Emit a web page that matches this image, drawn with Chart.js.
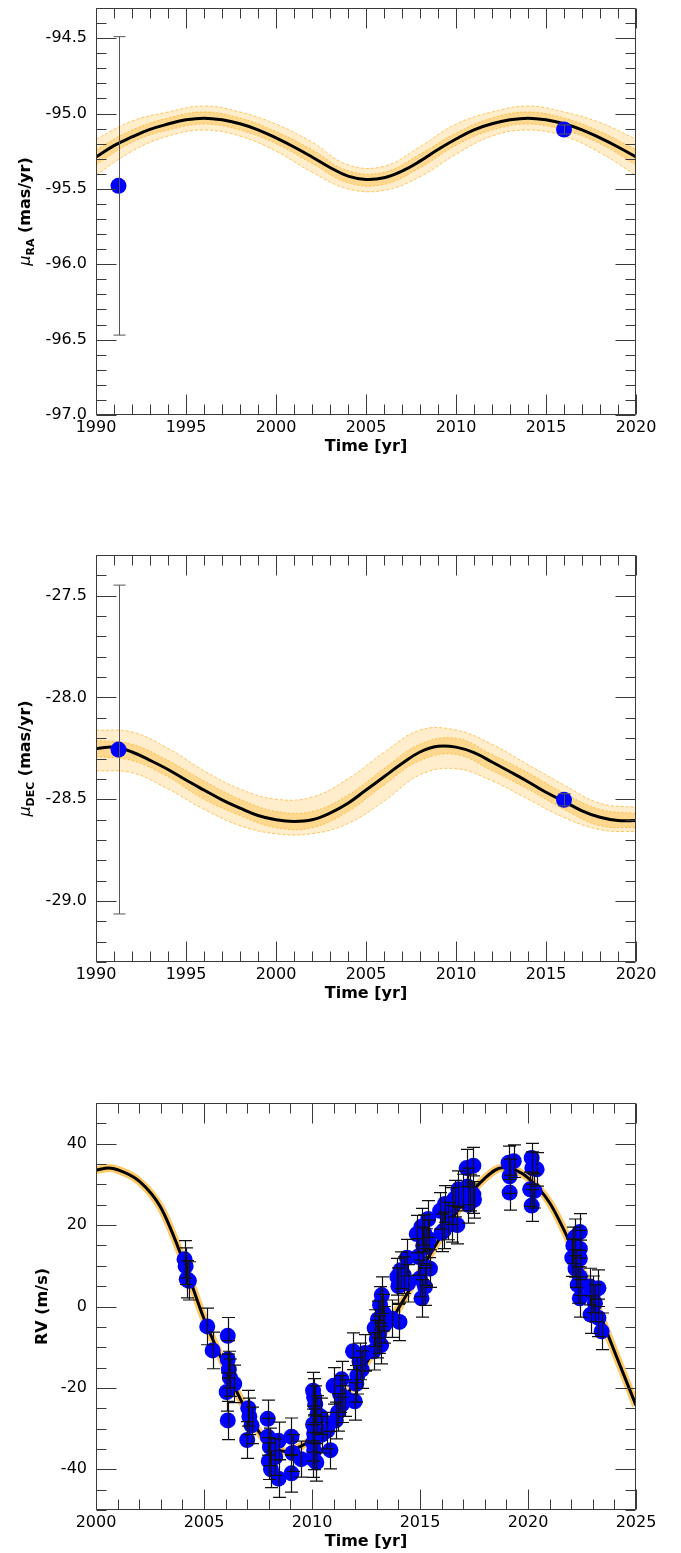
<!DOCTYPE html>
<html>
<head>
<meta charset="utf-8">
<script src="https://cdn.jsdelivr.net/npm/chart.js@4.4.1/dist/chart.umd.min.js"></script>
<style>
  html, body { margin: 0; padding: 0; background: #fff; overflow: hidden; }
  #wrap { position: relative; width: 681px; height: 1553px; overflow: hidden; }
  canvas { position: absolute; left: 0; }
</style>
</head>
<body>
<div id="wrap">
  <canvas id="cRA" width="681" height="460" style="top:0px"></canvas>
  <canvas id="cDEC" width="681" height="460" style="top:547px"></canvas>
  <canvas id="cRV" width="681" height="458" style="top:1095px"></canvas>
</div>
<script>
// ---- proper-motion measurements (Hipparcos / Gaia epochs) ----
const pmEpochs = [1991.25, 2016.0];
const pmRA = [-95.48, -95.106];
const pmRAErr = [0.99, 0.03];
const pmDEC = [-28.256, -28.503];
const pmDECErr = [0.808, 0.03];

// ---- best-fit orbit, proper motion, yearly ----
const modelYears = [1990, 1991, 1992, 1993, 1994, 1995, 1996, 1997, 1998, 1999,
                    2000, 2001, 2002, 2003, 2004, 2005, 2006, 2007, 2008, 2009,
                    2010, 2011, 2012, 2013, 2014, 2015, 2016, 2017, 2018, 2019, 2020];
const modelRA = [-95.289, -95.213, -95.155, -95.105, -95.070, -95.042, -95.031, -95.042, -95.068, -95.108,
                 -95.162, -95.222, -95.288, -95.358, -95.415, -95.437, -95.426, -95.382, -95.316, -95.239,
                 -95.169, -95.108, -95.068, -95.042, -95.031, -95.042, -95.068, -95.108, -95.162, -95.222, -95.288];
const modelDEC = [-28.252, -28.244, -28.268, -28.309, -28.354, -28.406, -28.455, -28.503, -28.544, -28.580,
                  -28.601, -28.609, -28.601, -28.568, -28.520, -28.455, -28.390, -28.325, -28.268, -28.240,
                  -28.244, -28.271, -28.317, -28.365, -28.414, -28.466, -28.511, -28.557, -28.589, -28.605, -28.605];

// ---- spread of posterior orbits (outer and inner envelopes), every two years ----
const bandYears = [1990, 1992, 1994, 1996, 1998, 2000, 2002, 2004, 2006, 2008, 2010, 2012, 2014, 2016, 2018, 2020];
const raOuterHi = [-95.17, -95.05, -94.99, -94.95, -94.99, -95.07, -95.19, -95.34, -95.35, -95.22, -95.07, -94.99, -94.95, -94.99, -95.06, -95.17];
const raOuterLo = [-95.41, -95.25, -95.15, -95.11, -95.15, -95.25, -95.39, -95.50, -95.51, -95.42, -95.27, -95.15, -95.11, -95.15, -95.26, -95.41];
const raInnerHi = [-95.24, -95.11, -95.03, -94.99, -95.03, -95.12, -95.24, -95.38, -95.39, -95.27, -95.13, -95.03, -94.99, -95.03, -95.12, -95.24];
const raInnerLo = [-95.34, -95.19, -95.11, -95.07, -95.11, -95.20, -95.33, -95.46, -95.47, -95.36, -95.21, -95.11, -95.07, -95.11, -95.20, -95.34];
const decOuterHi = [-28.16, -28.17, -28.25, -28.36, -28.45, -28.50, -28.49, -28.40, -28.27, -28.16, -28.16, -28.23, -28.33, -28.43, -28.52, -28.54];
const decOuterLo = [-28.36, -28.37, -28.45, -28.55, -28.63, -28.67, -28.67, -28.62, -28.51, -28.38, -28.35, -28.41, -28.50, -28.59, -28.65, -28.66];
const decInnerHi = [-28.21, -28.23, -28.31, -28.41, -28.50, -28.56, -28.56, -28.48, -28.35, -28.23, -28.20, -28.28, -28.37, -28.47, -28.55, -28.57];
const decInnerLo = [-28.29, -28.31, -28.39, -28.50, -28.58, -28.64, -28.64, -28.56, -28.43, -28.31, -28.28, -28.36, -28.45, -28.55, -28.63, -28.64];

// ---- radial velocities ----
const rvTime = [
  2004.10, 2004.15, 2004.20, 2004.30,
  2005.15, 2005.40,
  2006.10, 2006.10, 2006.15, 2006.20, 2006.40, 2006.05, 2006.10,
  2007.05, 2007.10, 2007.20, 2007.00,
  2007.95, 2007.95, 2008.05, 2008.00, 2008.10, 2008.45, 2008.45, 2008.30,
  2009.05, 2009.10, 2009.05, 2009.50,
  2010.05, 2010.10, 2010.15, 2010.25, 2010.05, 2010.10, 2010.05, 2010.10, 2010.05, 2010.20, 2010.45, 2010.40, 2010.70, 2010.85,
  2011.00, 2011.10, 2011.20, 2011.30, 2011.37, 2011.40, 2011.55,
  2011.90, 2011.98, 2012.05, 2012.10, 2012.30, 2012.45, 2012.20,
  2012.85, 2012.90, 2013.00, 2013.05, 2013.10, 2013.15, 2013.23, 2013.20, 2013.30, 2013.35, 2013.70,
  2013.95, 2014.00, 2014.05, 2014.25, 2014.40, 2014.45, 2014.10,
  2014.85, 2014.90, 2015.00, 2015.07, 2015.07, 2015.15, 2015.23, 2015.27, 2015.30, 2015.38, 2015.40, 2015.46, 2015.20,
  2015.93, 2016.00, 2016.10, 2016.16, 2016.30, 2016.47, 2016.50, 2016.73, 2016.78, 2016.60,
  2017.00, 2017.16, 2017.24, 2017.30, 2017.47, 2017.47, 2017.50, 2017.20,
  2019.10, 2019.34, 2019.15, 2019.15,
  2020.17, 2020.20, 2020.40, 2020.10, 2020.30, 2020.17,
  2022.05, 2022.10, 2022.17, 2022.40, 2022.17, 2022.40, 2022.20, 2022.40, 2022.40, 2022.30, 2022.40,
  2022.87, 2023.00, 2022.90, 2023.10, 2023.26, 2023.26, 2023.41
];
const rvValue = [
  11.6, 9.9, 6.7, 6.3,
  -4.9, -10.8,
  -7.2, -13.0, -15.5, -17.5, -19.0, -21.0, -28.0,
  -25.0, -27.0, -29.2, -32.8,
  -27.6, -32.0, -34.5, -38.0, -40.0, -33.0, -42.3, -37.0,
  -32.0, -36.0, -41.0, -37.5,
  -20.7, -22.3, -24.0, -26.5, -29.0, -31.2, -33.5, -35.5, -37.5, -38.3, -31.5, -27.0, -30.5, -35.3,
  -19.5, -28.0, -26.0, -21.5, -17.9, -24.0, -22.5,
  -11.0, -23.3, -19.0, -17.0, -15.5, -11.4, -13.5,
  -11.0, -5.3, -8.0, -3.2, -6.9, 0.4, 2.8, -9.5, -1.5, -4.5, -3.0,
  7.3, 5.0, -3.8, 7.7, 12.0, 5.7, 8.9,
  17.8, 12.2, 6.9, 2.0, 19.6, 15.0, 4.9, 9.7, 14.6, 21.5, 16.6, 9.3, 18.0,
  23.5, 18.1, 18.7, 25.2, 21.0, 20.3, 24.7, 20.0, 28.8, 26.5,
  28.0, 34.0, 25.0, 28.0, 34.6, 27.5, 26.2, 29.5,
  35.3, 35.7, 32.0, 28.0,
  36.5, 34.0, 33.7, 28.8, 28.4, 24.8,
  12.0, 15.0, 17.0, 18.3, 11.8, 14.2, 9.3, 11.8, 7.3, 5.3, 2.0,
  4.9, 3.0, -2.0, 0.8, 4.5, -2.8, -6.1
];
const rvError = [
  4.6, 4.5, 4.6, 4.7,
  4.5, 4.5,
  4.5, 4.6, 4.5, 4.6, 4.6, 4.7, 4.7,
  4.4, 4.5, 4.5, 4.5,
  4.6, 4.5, 4.6, 4.5, 4.5, 4.6, 4.6, 4.5,
  4.6, 4.5, 4.6, 4.4,
  4.5, 4.6, 4.5, 4.6, 4.5, 4.6, 4.5, 4.6, 4.5, 4.6, 4.5, 4.5, 4.5, 4.6,
  4.5, 4.5, 4.6, 4.5, 4.4, 4.5, 4.5,
  4.5, 4.6, 4.5, 4.5, 4.6, 4.5, 4.5,
  4.6, 4.5, 4.6, 4.5, 4.6, 4.5, 4.5, 4.6, 4.5, 4.5, 4.6,
  4.5, 4.5, 4.6, 4.5, 4.5, 4.6, 4.5,
  4.6, 4.5, 4.5, 4.6, 4.5, 4.5, 4.6, 4.5, 4.5, 4.5, 4.6, 4.6, 4.5,
  4.5, 4.6, 4.5, 4.5, 4.6, 4.5, 4.5, 4.6, 4.5, 4.5,
  4.5, 4.6, 4.5, 4.5, 4.5, 4.6, 4.5, 4.5,
  4.1, 4.0, 4.2, 4.3,
  3.6, 4.0, 4.1, 4.2, 4.2, 3.9,
  4.6, 4.5, 4.5, 4.5, 4.6, 4.5, 4.6, 4.5, 4.6, 4.5, 4.6,
  4.5, 4.5, 4.6, 4.5, 4.5, 4.6, 4.5
];

// ---- best-fit radial-velocity curve ----
const rvModelYears = [2000, 2000.6, 2001, 2002, 2003, 2004, 2005, 2006, 2007, 2008, 2008.8, 2009.5, 2010,
                      2011, 2012, 2013, 2014, 2015, 2016, 2017, 2018, 2018.8, 2019.5, 2020,
                      2021, 2022, 2023, 2024, 2025];
const rvModel = [33.5, 34.0, 33.6, 30.8, 24.3, 11.8, -3.0, -15.0, -26.0, -34.0, -35.6, -34.3, -32.5,
                 -26.5, -18.5, -9.5, -0.5, 8.5, 17.5, 25.5, 31.5, 34.1, 33.3, 31.6,
                 25.5, 15.0, 2.5, -11.0, -24.3];

// ---- axis ticks ----
const pmYearTicks = [1990, 1995, 2000, 2005, 2010, 2015, 2020];
const rvYearTicks = [2000, 2005, 2010, 2015, 2020, 2025];
const raTicks = [-97.0, -96.5, -96.0, -95.5, -95.0, -94.5];
const decTicks = [-29.0, -28.5, -28.0, -27.5];
const rvTicks = [-40, -20, 0, 20, 40];

Chart.defaults.font.family = '"DejaVu Sans", sans-serif';

const FONT = '"DejaVu Sans"';
const pairs = (xs, ys) => xs.map((x, i) => ({ x: x, y: ys[i] }));

// frame with inward major/minor ticks on all four sides
function frameTicks(o) {
  return {
    id: 'frameTicks',
    afterDraw(chart) {
      const { ctx, chartArea: a, scales } = chart;
      const xs = scales.x, ys = scales.y;
      const L = Math.round(a.left) + 0.5, R = Math.round(a.right) - 0.5;
      const T = Math.round(a.top) + 0.5, B = Math.round(a.bottom) - 0.5;
      ctx.save();
      ctx.strokeStyle = '#3a3a3a';
      ctx.lineWidth = 1;
      ctx.beginPath();
      ctx.rect(L, T, R - L, B - T);
      const near = (arr, v) => arr.some(t => Math.abs(t - v) < 1e-6);
      const xTick = (v, len) => {
        const px = Math.round(xs.getPixelForValue(v)) + 0.5;
        ctx.moveTo(px, B); ctx.lineTo(px, B - len);
        ctx.moveTo(px, T); ctx.lineTo(px, T + len);
      };
      const yTick = (v, len) => {
        const py = Math.round(ys.getPixelForValue(v)) + 0.5;
        ctx.moveTo(L, py); ctx.lineTo(L + len, py);
        ctx.moveTo(R, py); ctx.lineTo(R - len, py);
      };
      o.xTicks.forEach(v => xTick(v, 20));
      const nx = Math.round((o.xMax - o.xMin) / o.xMinor);
      for (let k = 0; k <= nx; k++) {
        const v = o.xMin + k * o.xMinor;
        if (!near(o.xTicks, v)) xTick(v, 10);
      }
      o.yTicks.forEach(v => yTick(v, 20));
      const ny = Math.round((o.yMax - o.yMin) / o.yMinor);
      for (let k = 0; k <= ny; k++) {
        const v = o.yMin + k * o.yMinor;
        if (!near(o.yTicks, v)) yTick(v, 10);
      }
      ctx.stroke();
      ctx.restore();
    }
  };
}

// vertical error bars with caps, drawn over the markers
const errorBars = {
  id: 'errorBars',
  afterDatasetsDraw(chart) {
    const { ctx, scales } = chart;
    chart.data.datasets.forEach(ds => {
      if (!ds.errors) return;
      ctx.save();
      ctx.strokeStyle = ds.errorColor;
      ctx.lineWidth = ds.errorWidth;
      ctx.beginPath();
      ds.data.forEach((p, j) => {
        const e = ds.errors[j];
        const x = Math.round(scales.x.getPixelForValue(p.x)) + 0.5;
        const y0 = scales.y.getPixelForValue(p.y - e);
        const y1 = scales.y.getPixelForValue(p.y + e);
        const c = ds.capHalf;
        ctx.moveTo(x, y0); ctx.lineTo(x, y1);
        ctx.moveTo(x - c, y0); ctx.lineTo(x + c, y0);
        ctx.moveTo(x - c, y1); ctx.lineTo(x + c, y1);
      });
      ctx.stroke();
      ctx.restore();
    });
  }
};

// rotated y-axis title with optional subscript pieces
function yTitle(parts, baseX) {
  return {
    id: 'yTitle',
    afterDraw(chart) {
      const { ctx, chartArea: a } = chart;
      const yc = (a.top + a.bottom) / 2;
      ctx.save();
      ctx.translate(baseX, yc);
      ctx.rotate(-Math.PI / 2);
      ctx.fillStyle = '#000';
      ctx.textAlign = 'left';
      ctx.textBaseline = 'alphabetic';
      let total = 0;
      const widths = parts.map(p => { ctx.font = p.font; const w = ctx.measureText(p.text).width; total += w; return w; });
      let cx = -total / 2;
      parts.forEach((p, i) => { ctx.font = p.font; ctx.fillText(p.text, cx, p.dy); cx += widths[i]; });
      ctx.restore();
    }
  };
}

function buildChart(id, o) {
  return new Chart(document.getElementById(id), {
    type: 'scatter',
    data: { datasets: o.datasets },
    options: {
      responsive: false,
      animation: false,
      events: [],
      layout: { padding: { left: 0, right: 45, top: 3, bottom: o.padBottom } },
      plugins: { legend: { display: false }, tooltip: { enabled: false } },
      scales: {
        x: {
          type: 'linear', min: o.xMin, max: o.xMax,
          grid: { display: false, drawTicks: false },
          border: { display: false },
          afterBuildTicks: s => { s.ticks = o.xTicks.map(v => ({ value: v })); },
          afterFit: s => { s.height = 41; s.paddingLeft = 0; s.paddingRight = 0; },
          ticks: { padding: 3, color: '#000', font: { size: 16 }, maxRotation: 0, autoSkip: false,
                   callback: v => String(v) },
          title: { display: true, text: 'Time [yr]', color: '#000',
                   font: { size: 16, weight: 'bold' }, padding: 0 }
        },
        y: {
          type: 'linear', min: o.yMin, max: o.yMax,
          grid: { display: false, drawTicks: false },
          border: { display: false },
          afterBuildTicks: s => { s.ticks = o.yTicks.map(v => ({ value: v })); },
          afterFit: s => { s.width = 96; s.paddingTop = 0; s.paddingBottom = 0; },
          ticks: { padding: 9, color: '#000', font: { size: 16 }, autoSkip: false,
                   callback: v => Number(v).toFixed(o.dec) }
        }
      }
    },
    plugins: [frameTicks(o), errorBars, yTitle(o.yParts, o.yTitleX)]
  });
}

const ORANGE_LINE = 'rgba(255,165,0,0.75)';
function pmDatasets(epochVals, epochErr, model, oHi, oLo, iHi, iLo) {
  return [
    { data: pairs(pmEpochs, epochVals), errors: epochErr, errorColor: '#555', errorWidth: 1, capHalf: 6,
      pointRadius: 8, pointBackgroundColor: '#0000ff', pointBorderWidth: 0, showLine: false, order: 0 },
    { data: pairs(modelYears, model), showLine: true, pointRadius: 0, borderColor: '#000', borderWidth: 3,
      tension: 0.4, fill: false, order: 1 },
    { data: pairs(bandYears, oHi), showLine: true, pointRadius: 0, borderColor: ORANGE_LINE, borderWidth: 0.8,
      borderDash: [3, 2], tension: 0.4, fill: false, order: 5 },
    { data: pairs(bandYears, oLo), showLine: true, pointRadius: 0, borderColor: ORANGE_LINE, borderWidth: 0.8,
      borderDash: [3, 2], tension: 0.4, fill: 2, backgroundColor: 'rgba(255,165,0,0.2)', order: 5 },
    { data: pairs(bandYears, iHi), showLine: true, pointRadius: 0, borderColor: ORANGE_LINE, borderWidth: 0.8,
      borderDash: [2, 2], tension: 0.4, fill: false, order: 4 },
    { data: pairs(bandYears, iLo), showLine: true, pointRadius: 0, borderColor: ORANGE_LINE, borderWidth: 0.8,
      borderDash: [2, 2], tension: 0.4, fill: 4, backgroundColor: 'rgba(255,165,0,0.3)', order: 4 }
  ];
}

buildChart('cRA', {
  xMin: 1990, xMax: 2020, xTicks: pmYearTicks, xMinor: 1,
  yMin: -97, yMax: -94.3, yTicks: raTicks, yMinor: 0.1, dec: 1, padBottom: 4,
  yTitleX: 29.5,
  yParts: [
    { text: 'μ', font: 'italic 16px ' + FONT, dy: 0 },
    { text: 'RA', font: 'bold 11px ' + FONT, dy: 4 },
    { text: ' (mas/yr)', font: 'bold 16px ' + FONT, dy: 0 }
  ],
  datasets: pmDatasets(pmRA, pmRAErr, modelRA, raOuterHi, raOuterLo, raInnerHi, raInnerLo)
});

buildChart('cDEC', {
  xMin: 1990, xMax: 2020, xTicks: pmYearTicks, xMinor: 1,
  yMin: -29.3, yMax: -27.3, yTicks: decTicks, yMinor: 0.1, dec: 1, padBottom: 4,
  yTitleX: 29.5,
  yParts: [
    { text: 'μ', font: 'italic 16px ' + FONT, dy: 0 },
    { text: 'DEC', font: 'bold 11px ' + FONT, dy: 4 },
    { text: ' (mas/yr)', font: 'bold 16px ' + FONT, dy: 0 }
  ],
  datasets: pmDatasets(pmDEC, pmDECErr, modelDEC, decOuterHi, decOuterLo, decInnerHi, decInnerLo)
});

buildChart('cRV', {
  xMin: 2000, xMax: 2025, xTicks: rvYearTicks, xMinor: 1,
  yMin: -50, yMax: 50, yTicks: rvTicks, yMinor: 5, dec: 0, padBottom: 2,
  yTitleX: 46.5,
  yParts: [ { text: 'RV (m/s)', font: 'bold 16px ' + FONT, dy: 0 } ],
  datasets: [
    { data: pairs(rvTime, rvValue), errors: rvError, errorColor: '#111', errorWidth: 1.2, capHalf: 6.5,
      pointRadius: 8, pointBackgroundColor: '#0000ff', pointBorderWidth: 0, showLine: false, order: 0 },
    { data: pairs(rvModelYears, rvModel), showLine: true, pointRadius: 0, borderColor: '#000', borderWidth: 3,
      cubicInterpolationMode: 'monotone', fill: false, order: 1 },
    { data: pairs(rvModelYears, rvModel), showLine: true, pointRadius: 0, borderColor: 'rgba(255,165,0,0.6)',
      borderWidth: 8, cubicInterpolationMode: 'monotone', fill: false, order: 2 }
  ]
});
</script>
</body>
</html>
